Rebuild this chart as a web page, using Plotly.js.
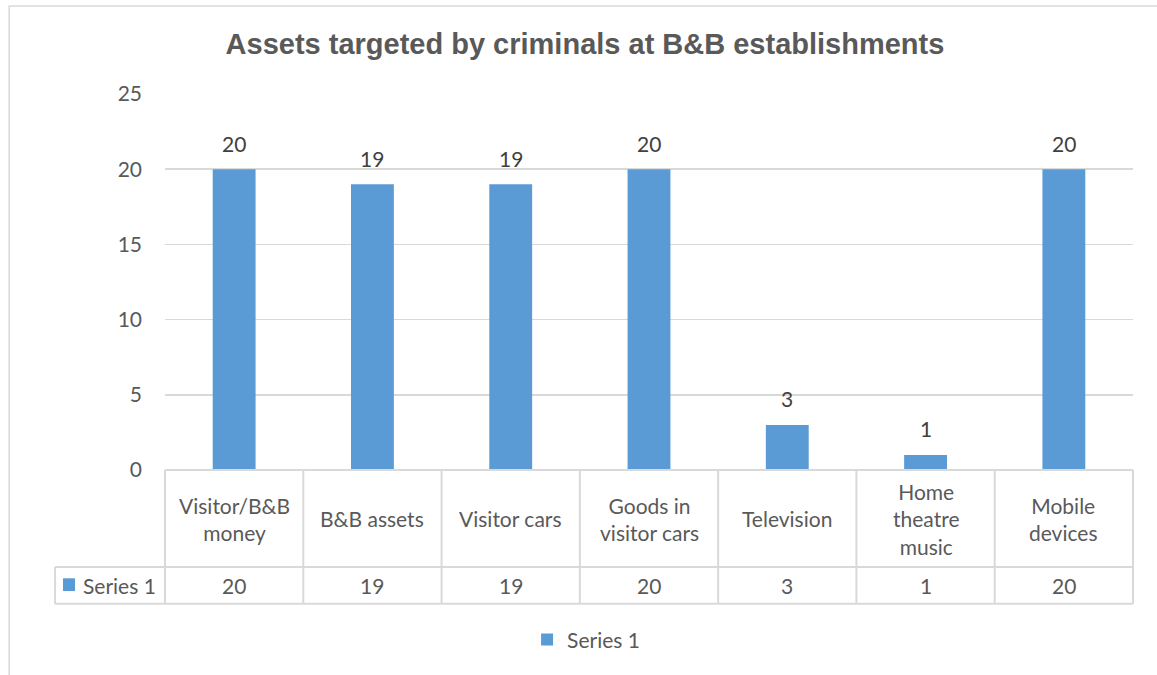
<!DOCTYPE html>
<html>
<head>
<meta charset="utf-8">
<script src="https://cdn.plot.ly/plotly-3.0.1.min.js"></script>
<style>html,body{margin:0;padding:0;background:#fff;}#chart{width:1157px;height:675px;}</style>
</head>
<body>
<div id="chart"></div>
<script>
const categories = ["Visitor/B&B<br>money", "B&B assets", "Visitor cars", "Goods in<br>visitor cars", "Television", "Home<br>theatre<br>music", "Mobile<br>devices"];
const seriesName = "Series 1";
const values = [20, 19, 19, 20, 3, 1, 20];
const yTicks = [0, 5, 10, 15, 20, 25];

const txtColor = '#595959';
const gridColor = '#d9d9d9';
const barColor = '#5b9bd5';
const font = 'Lato, "Open Sans", sans-serif';
const fs = 21;
const n = categories.length;
const xIdx = categories.map((c, i) => i);

// table geometry in paper coordinates
const rowTop = 0, rowMid = -0.258, rowBot = -0.356, labelLeft = -0.1136;

const shapes = [];
// chart area border
shapes.push({type:'rect', xref:'paper', yref:'paper', x0:-0.161, x1:1.2, y0:-0.8, y1:1.234, line:{color:gridColor, width:1.5}, fillcolor:'rgba(0,0,0,0)', layer:'below'});
// horizontal table lines
shapes.push({type:'line', xref:'paper', yref:'paper', x0:0, x1:1, y0:rowTop, y1:rowTop, line:{color:gridColor, width:2}});
shapes.push({type:'line', xref:'paper', yref:'paper', x0:labelLeft, x1:1, y0:rowMid, y1:rowMid, line:{color:gridColor, width:2}});
shapes.push({type:'line', xref:'paper', yref:'paper', x0:labelLeft, x1:1, y0:rowBot, y1:rowBot, line:{color:gridColor, width:2}});
// vertical table lines
for (let i = 0; i <= n; i++) {
  shapes.push({type:'line', xref:'paper', yref:'paper', x0:i/n, x1:i/n, y0:rowTop, y1:rowBot, line:{color:gridColor, width:2}});
}
shapes.push({type:'line', xref:'paper', yref:'paper', x0:labelLeft, x1:labelLeft, y0:rowMid, y1:rowBot, line:{color:gridColor, width:2}});
// legend key in table
shapes.push({type:'rect', xref:'paper', yref:'paper', x0:-0.1054, x1:-0.0930, y0:-0.288, y1:-0.322, line:{width:0}, fillcolor:barColor});

const annotations = [];
categories.forEach((c, i) => {
  annotations.push({x:i, y:(rowTop+rowMid)/2, xref:'x', yref:'paper', text:c, showarrow:false,
    font:{family:font, size:fs, color:txtColor}, xanchor:'center', yanchor:'middle', align:'center'});
  annotations.push({x:i, y:(rowMid+rowBot)/2, xref:'x', yref:'paper', text:String(values[i]), showarrow:false,
    font:{family:font, size:fs, color:txtColor}, xanchor:'center', yanchor:'middle'});
  // data labels above bars
  annotations.push({x:i, y:values[i], xref:'x', yref:'y', text:String(values[i]), showarrow:false,
    font:{family:font, size:fs, color:'#404040'}, xanchor:'center', yanchor:'middle', yshift:26});
});
annotations.push({x:-0.0865, y:(rowMid+rowBot)/2, xref:'paper', yref:'paper', text:seriesName, showarrow:false,
  font:{family:font, size:fs, color:txtColor}, xanchor:'left', yanchor:'middle'});

const trace = {
  type:'bar', x:xIdx, y:values, name:seriesName,
  marker:{color:barColor}, width:0.31,
  hoverinfo:'skip'
};

const layout = {
  width:1157, height:675,
  margin:{l:165, r:24, t:94, b:205, autoexpand:false},
  paper_bgcolor:'#fff', plot_bgcolor:'#fff',
  title:{text:'Assets targeted by criminals at B&B establishments', xref:'container', yref:'container', x:0.5056, y:0.935, xanchor:'center', yanchor:'middle',
    font:{family:'"Liberation Sans", Arial, sans-serif', size:29, color:txtColor, weight:'bold'}},
  xaxis:{range:[-0.5, n-0.5], showticklabels:false, showgrid:false, zeroline:false, ticks:'', fixedrange:true},
  yaxis:{range:[0,25], tickvals:yTicks, ticktext:yTicks.map(String), showgrid:true, gridcolor:gridColor, gridwidth:1.5,
    zeroline:false, showline:false, ticks:'', ticklabelstandoff:22,
    tickfont:{family:font, size:fs, color:txtColor}},
  showlegend:true,
  legend:{orientation:'h', x:0.435, xref:'paper', xanchor:'center', y:-0.452, yref:'paper', yanchor:'middle',
    font:{family:font, size:fs, color:txtColor}},
  shapes:shapes, annotations:annotations, bargap:0.69
};

Plotly.newPlot('chart', [trace], layout, {displayModeBar:false, staticPlot:true});
</script>
</body>
</html>
